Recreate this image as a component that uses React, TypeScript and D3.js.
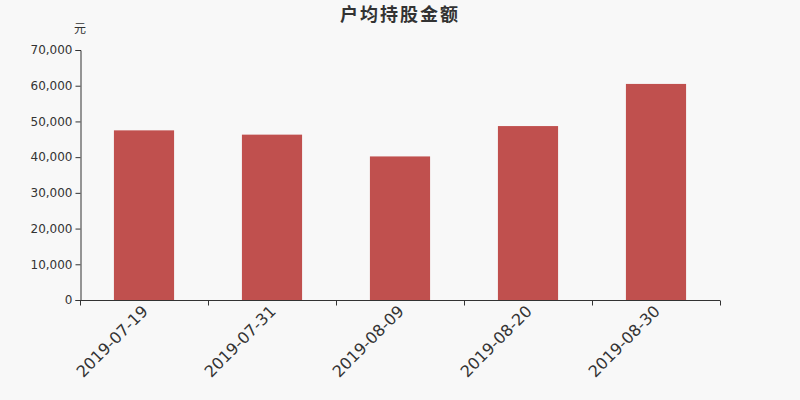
import React, { useRef, useEffect } from 'react';
import * as d3 from 'd3';

const categories: string[] = ['2019-07-19', '2019-07-31', '2019-08-09', '2019-08-20', '2019-08-30'];
const values: number[] = [47500, 46300, 40200, 48700, 60500];
const yTicks: number[] = [0, 10000, 20000, 30000, 40000, 50000, 60000, 70000];

const title = '户均持股金额';
const unit = '元';

const App: React.FC = () => {
    const svgRef = useRef<SVGSVGElement>(null);

    useEffect(() => {
        const width = 800;
        const height = 400;
        const margin = { top: 50, right: 80, bottom: 100, left: 80 };

        const svg = d3.select(svgRef.current);
        svg.selectAll('*').remove();

        svg.append('rect')
            .attr('width', width)
            .attr('height', height)
            .attr('fill', '#f8f8f8');

        const x = d3.scaleBand<string>()
            .domain(categories)
            .range([margin.left, width - margin.right])
            .paddingInner(0.53)
            .paddingOuter(0.265);

        const y = d3.scaleLinear()
            .domain([0, 70000])
            .range([height - margin.bottom, margin.top]);

        // bars
        svg.append('g')
            .selectAll('rect')
            .data(values)
            .join('rect')
            .attr('x', (_, i) => x(categories[i]) as number)
            .attr('y', d => y(d))
            .attr('width', x.bandwidth())
            .attr('height', d => y(0) - y(d))
            .attr('fill', '#c0504e');

        const fontFamily = '"DejaVu Sans", sans-serif';

        // y axis
        const yAxis = svg.append('g')
            .attr('transform', `translate(${margin.left + 0.5},0)`)
            .call(d3.axisLeft(y).tickValues(yTicks).tickSize(5).tickPadding(3).tickFormat(d3.format(',')));
        yAxis.select('.domain').attr('stroke', '#333');
        yAxis.selectAll('.tick line').attr('stroke', '#333');
        yAxis.selectAll('.tick text')
            .attr('fill', '#333')
            .style('font-size', '12px')
            .style('font-family', fontFamily);

        // x axis, ticks on band boundaries
        const xAxisG = svg.append('g')
            .attr('transform', `translate(0,${height - margin.bottom + 0.5})`);
        xAxisG.append('line')
            .attr('x1', margin.left)
            .attr('x2', width - margin.right)
            .attr('stroke', '#333');
        const step = x.step();
        const boundaries = d3.range(categories.length + 1).map(i => margin.left + i * step);
        xAxisG.selectAll('line.tk')
            .data(boundaries)
            .join('line')
            .attr('class', 'tk')
            .attr('x1', d => Math.round(d) + 0.5)
            .attr('x2', d => Math.round(d) + 0.5)
            .attr('y1', 0)
            .attr('y2', 5)
            .attr('stroke', '#333');
        xAxisG.selectAll('text')
            .data(categories)
            .join('text')
            .attr('transform', d => `translate(${(x(d) as number) + x.bandwidth() / 2 - 3},${4}) rotate(-45)`)
            .attr('text-anchor', 'end')
            .attr('dy', '0.7em')
            .attr('fill', '#333')
            .style('font-size', '16px')
            .style('font-family', fontFamily)
            .text(d => d);

        // title
        svg.append('text')
            .attr('x', width / 2)
            .attr('y', 21)
            .attr('text-anchor', 'middle')
            .attr('fill', '#333')
            .style('font-size', '18px')
            .style('letter-spacing', '2px')
            .style('font-weight', 'bold')
            .style('font-family', '"Noto Sans CJK SC", sans-serif')
            .text(title);

        // unit
        svg.append('text')
            .attr('x', margin.left)
            .attr('y', 33)
            .attr('text-anchor', 'middle')
            .attr('fill', '#333')
            .style('font-size', '12px')
            .style('font-family', '"Noto Sans CJK SC", sans-serif')
            .text(unit);
    }, []);

    return (
        <svg ref={svgRef} width={800} height={400} style={{ display: 'block', position: 'absolute', left: 0, top: 0 }}></svg>
    );
};

export default App;
